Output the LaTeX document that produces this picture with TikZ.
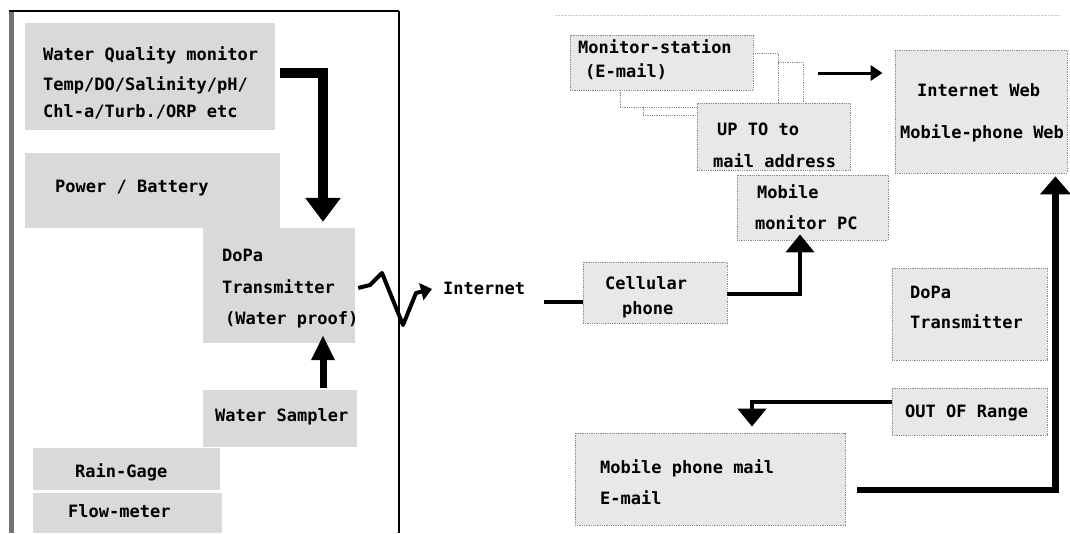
\documentclass[tikz,border=0pt]{standalone}
\usepackage{fontspec}
\newfontfamily\monofam{DejaVu Sans Mono}
\usetikzlibrary{arrows.meta,fit}
\tikzset{
  lbox/.style={fill=black!15, draw=none, inner sep=0pt},
  rbox/.style={fill=black!9, draw=black!45, densely dotted, line width=0.8pt, inner sep=0pt},
  stackbox/.style={fill=white, draw=black!45, densely dotted, line width=0.8pt, inner sep=0pt},
  txt/.style={anchor=west, inner sep=0pt, font=\monofam\bfseries\fontsize{17}{20}\selectfont},
  fatarrow/.style={line width=10pt, line join=miter, -{Triangle[width=34pt,length=24pt]}},
  uparrow/.style={line width=7pt, -{Triangle[width=22pt,length=25pt]}},
  zigarrow/.style={line width=4pt, line join=round, -{Triangle[width=17pt,length=11pt]}},
  medarrow/.style={line width=4.5pt, line join=miter, -{Triangle[width=28pt,length=18pt]}},
  thinarrow/.style={line width=3pt, -{Triangle[width=15pt,length=12pt]}},
  bigarrow/.style={line width=6.5pt, line join=miter, -{Triangle[width=30pt,length=18pt]}},
  plainline/.style={line width=4pt}
}
\begin{document}
\begin{tikzpicture}[x=1pt,y=-1pt]
\path[fill=white] (0,0) rectangle (1070,533);
\useasboundingbox (0,0) rectangle (1070,533);

% left frame
\draw[black!55, line width=5pt] (11,11) -- (11,533);
\draw[line width=2.5pt] (9,11) -- (399,11);
\draw[line width=1.6pt] (399,11) -- (399,533);

% faint scan line at top right
\draw[black!20, densely dotted] (555,15) -- (1060,15);

% left boxes
\node[lbox, fit={(25,23) (275,130)}] (wq) {};
\node[lbox, fit={(25,153) (280,228)}] (pb) {};
\node[lbox, fit={(203,228) (355,343)}] (dopa) {};
\node[lbox, fit={(203,390) (357,447)}] (ws) {};
\node[lbox, fit={(33,448) (220,490)}] (rg) {};
\node[lbox, fit={(33,493) (222,533)}] (fm) {};

% left texts
\node[txt] (wq1) at (43,55) {Water Quality monitor};
\node[txt] (wq2) at (43,85) {Temp/DO/Salinity/pH/};
\node[txt] (wq3) at (43,112) {Chl-a/Turb./ORP etc};
\node[txt] (pbt) at (55,188) {Power / Battery};
\node[txt] (dp1) at (222,255) {DoPa};
\node[txt] (dp2) at (222,287) {Transmitter};
\node[txt] (dp3) at (225,320) {(Water proof)};
\node[txt] (wst) at (215,417) {Water Sampler};
\node[txt] (rgt) at (75,472) {Rain-Gage};
\node[txt] (fmt) at (68,511) {Flow-meter};

% right boxes
\node[stackbox, fit={(643,62) (803,115)}] (mon3) {};
\node[stackbox, fit={(620,53) (778,107)}] (mon2) {};
\node[rbox, fit={(570,35) (753,90)}] (mon) {};
\node[rbox, fit={(697,103) (850,170)}] (upto) {};
\node[rbox, fit={(737,175) (888,240)}] (mpc) {};
\node[rbox, fit={(895,50) (1067,173)}] (iweb) {};
\node[rbox, fit={(583,262) (727,323)}] (cell) {};
\node[rbox, fit={(892,268) (1047,360)}] (dopb) {};
\node[rbox, fit={(892,388) (1047,435)}] (oor) {};
\node[rbox, fit={(575,433) (845,525)}] (mpm) {};

% right texts
\node[txt] (mon1t) at (578,47) {Monitor-station};
\node[txt] (mon2t) at (585,72) {(E-mail)};
\node[txt] (up1) at (717,129) {UP TO to};
\node[txt] (up2) at (713,161) {mail address};
\node[txt] (mp1) at (757,192) {Mobile};
\node[txt] (mp2) at (755,223) {monitor PC};
\node[txt] (iw1) at (917,90) {Internet Web};
\node[txt] (iw2) at (900,133) {Mobile-phone Web};
\node[txt] (inet) at (443,288) {Internet};
\node[txt] (ce1) at (605,283) {Cellular};
\node[txt] (ce2) at (622,310) {phone};
\node[txt] (db1) at (910,292) {DoPa};
\node[txt] (db2) at (910,322) {Transmitter};
\node[txt] (oort) at (905,413) {OUT OF Range};
\node[txt] (mm1) at (600,468) {Mobile phone mail};
\node[txt] (mm2) at (600,498) {E-mail};

% connectors
\draw[fatarrow] ([xshift=5pt,yshift=3.5pt]wq.east) -| ([xshift=44pt,yshift=6pt]dopa.north);
\draw[uparrow, shorten >=-8pt] ([xshift=43pt,yshift=2pt]ws.north) coordinate (wsa) -- (wsa |- dopa.south);
\draw[zigarrow] ([xshift=3pt,yshift=-2.5pt]dopa.east) -- (370,285) -- (382,273) -- (403,325) -- (416,293) -- ([xshift=-11pt,yshift=-1pt]inet.west);
\draw[plainline] ([xshift=-39pt,yshift=-9.5pt]cell.west) -- ([yshift=-9.5pt]cell.west);
\draw[medarrow] ([yshift=-1.5pt]cell.east) -| ([xshift=-12.5pt,yshift=6pt]mpc.south);
\draw[thinarrow] ([xshift=15pt,yshift=15.5pt]mon3.east) -- ([xshift=-12pt,yshift=38.5pt]iweb.west);
\draw[bigarrow] ([xshift=12pt,yshift=-11pt]mpm.east) -| ([xshift=-12pt,yshift=-3pt]iweb.south east);
\draw[medarrow] ([yshift=9.5pt]oor.west) -| ([xshift=42pt,yshift=6pt]mpm.north);
\end{tikzpicture}
\end{document}
